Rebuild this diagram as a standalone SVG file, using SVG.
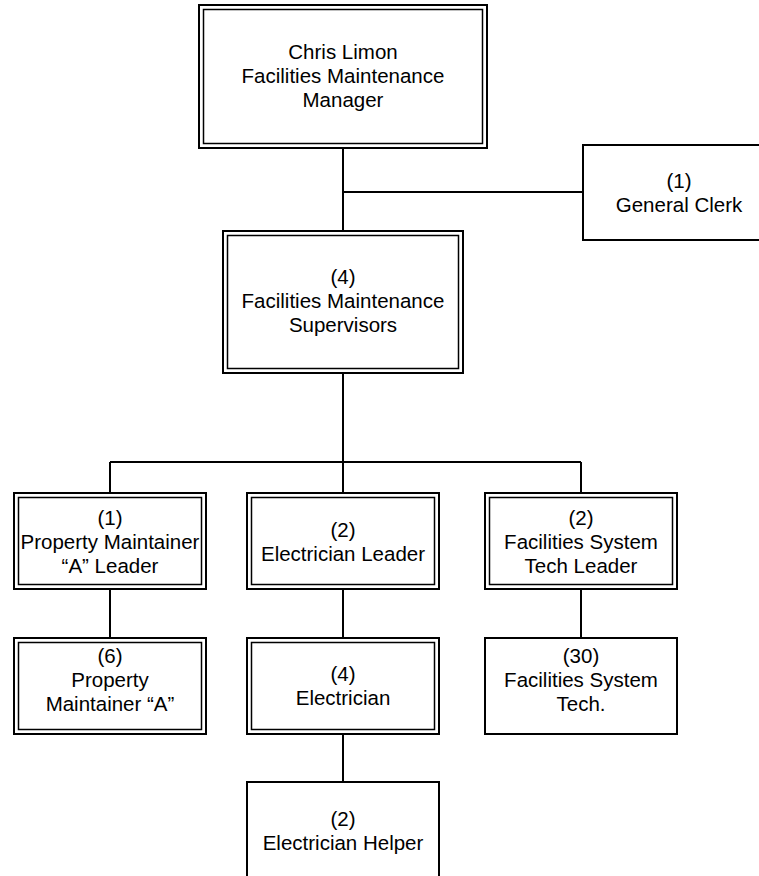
<svg xmlns="http://www.w3.org/2000/svg" width="759" height="876" viewBox="0 0 759 876">
<style>
.o{fill:#fff;stroke:#000;stroke-width:2}
.i{fill:none;stroke:#000;stroke-width:1.5}
.c{fill:none;stroke:#000;stroke-width:2}
text{font-family:"Liberation Sans",Arial,sans-serif;font-size:20.5px;fill:#000;text-anchor:middle}
</style>
<rect width="759" height="876" fill="#fff"/>
<g id="connectors">
<path class="c" d="M343 148V231M343 192H583M343 373V462M110 462H581M110 462V493M343 462V493M581 462V493M110 589V638M343 589V638M581 589V638M343 734V782"/>
</g>
<g id="manager">
<rect class="o" x="199" y="5" width="288" height="143"/>
<rect class="i" x="203.5" y="9.5" width="279" height="134"/>
<text x="343" y="59">Chris Limon</text>
<text x="343" y="83">Facilities Maintenance</text>
<text x="343" y="107">Manager</text>
</g>
<g id="clerk">
<rect class="o" x="583" y="145" width="192" height="95"/>
<text x="679" y="188">(1)</text>
<text x="679" y="212">General Clerk</text>
</g>
<g id="supervisors">
<rect class="o" x="223" y="231" width="240" height="142"/>
<rect class="i" x="227.5" y="235.5" width="231" height="133"/>
<text x="343" y="284">(4)</text>
<text x="343" y="308">Facilities Maintenance</text>
<text x="343" y="332">Supervisors</text>
</g>
<g id="pm-leader">
<rect class="o" x="14" y="493" width="192" height="96"/>
<rect class="i" x="18.5" y="497.5" width="183" height="87"/>
<text x="110" y="525">(1)</text>
<text x="110" y="549">Property Maintainer</text>
<text x="110" y="573">“A” Leader</text>
</g>
<g id="elec-leader">
<rect class="o" x="247" y="493" width="192" height="96"/>
<rect class="i" x="251.5" y="497.5" width="183" height="87"/>
<text x="343" y="537">(2)</text>
<text x="343" y="561">Electrician Leader</text>
</g>
<g id="fst-leader">
<rect class="o" x="485" y="493" width="192" height="96"/>
<rect class="i" x="489.5" y="497.5" width="183" height="87"/>
<text x="581" y="525">(2)</text>
<text x="581" y="549">Facilities System</text>
<text x="581" y="573">Tech Leader</text>
</g>
<g id="pm-a">
<rect class="o" x="14" y="638" width="192" height="96"/>
<rect class="i" x="18.5" y="642.5" width="183" height="87"/>
<text x="110" y="663">(6)</text>
<text x="110" y="687">Property</text>
<text x="110" y="711">Maintainer “A”</text>
</g>
<g id="electrician">
<rect class="o" x="247" y="638" width="192" height="96"/>
<rect class="i" x="251.5" y="642.5" width="183" height="87"/>
<text x="343" y="681">(4)</text>
<text x="343" y="705">Electrician</text>
</g>
<g id="fst">
<rect class="o" x="485" y="638" width="192" height="96"/>
<text x="581" y="663">(30)</text>
<text x="581" y="687">Facilities System</text>
<text x="581" y="711">Tech.</text>
</g>
<g id="helper">
<rect class="o" x="247" y="782" width="192" height="100"/>
<text x="343" y="826">(2)</text>
<text x="343" y="850">Electrician Helper</text>
</g>
</svg>
